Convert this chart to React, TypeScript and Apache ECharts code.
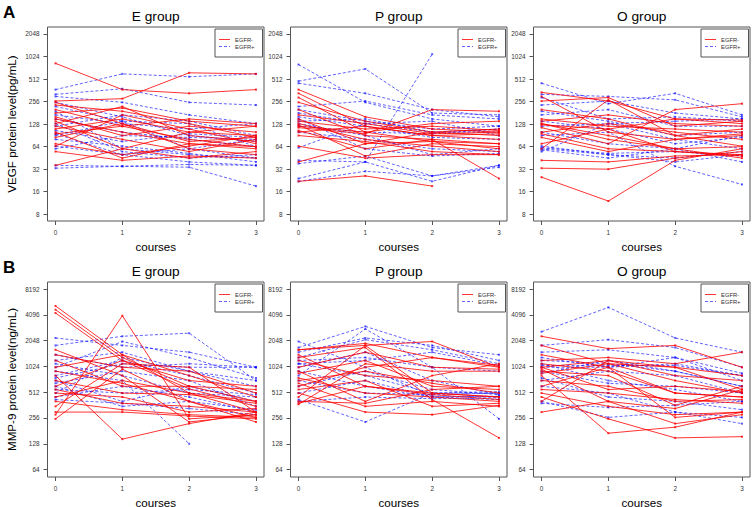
import React, { useEffect, useRef } from "react";
import * as echarts from "echarts";

const courses = [0, 1, 2, 3];
const panelTitles = ["E group", "P group", "O group"];
const legendNames = ["EGFR-", "EGFR+"];
const vegfTicks = [8, 16, 32, 64, 128, 256, 512, 1024, 2048];
const mmpTicks = [64, 128, 256, 512, 1024, 2048, 4096, 8192];
const rowLabels = ["A", "B"];
const yTitles = ["VEGF protein level(pg/mL)", "MMP-9 protein level(ng/mL)"];

// VEGF (pg/mL), values at courses 0..3, one row per patient
const vegfE_neg = [
  [830, 370, 330, 370], [260, 280, 620, 600], [36, 60, 100, 120], [230, 190, 130, 85],
  [200, 120, 80, 64], [180, 210, 140, 120], [150, 100, 70, 60], [140, 60, 45, 55],
  [130, 220, 90, 75], [120, 80, 55, 80], [110, 150, 100, 90], [100, 45, 70, 64],
  [95, 120, 150, 130], [85, 130, 60, 50], [70, 50, 65, 90], [65, 170, 110, 70],
  [55, 42, 48, 45], [250, 130, 75, 85], [160, 90, 120, 100],
];
const vegfE_pos = [
  [370, 600, 550, 600], [320, 380, 250, 230], [300, 250, 170, 130], [250, 160, 90, 75],
  [220, 140, 60, 80], [190, 60, 50, 45], [170, 130, 110, 130], [150, 100, 80, 64],
  [130, 55, 45, 50], [120, 170, 140, 90], [105, 75, 95, 85], [95, 50, 60, 45],
  [90, 140, 130, 64], [80, 65, 52, 40], [65, 50, 40, 36], [36, 35, 37, 36],
  [33, 35, 34, 19], [60, 90, 85, 80],
];
const vegfP_neg = [
  [370, 160, 110, 100], [330, 120, 90, 80], [290, 100, 75, 60], [250, 140, 100, 110],
  [200, 90, 80, 70], [170, 130, 95, 100], [150, 70, 100, 90], [140, 110, 120, 105],
  [130, 80, 65, 55], [125, 48, 70, 64], [115, 95, 200, 190], [105, 60, 80, 24],
  [100, 120, 90, 95], [90, 75, 55, 50], [65, 45, 50, 50], [40, 70, 75, 70],
  [22, 26, 19, null], [120, 100, 130, 140],
];
const vegfP_pos = [
  [800, 250, 150, 120], [480, 700, 180, 170], [450, 330, 200, 160], [220, 260, 170, 150],
  [200, 140, 110, 120], [180, 130, 140, 90], [160, 120, 85, 80], [140, 150, 100, 100],
  [130, 90, 50, 60], [120, 100, 95, 110], [100, 80, 60, 55], [42, 40, 1100, null],
  [38, 48, 26, 36], [24, 40, 22, 36], [22, 30, 26, 34], [150, 60, 48, 52],
  [62, 130, 100, 110],
];
const vegfO_neg = [
  [340, 260, 150, 130], [300, 100, 80, 90], [260, 290, 120, 140], [200, 150, 90, 110],
  [150, 120, 110, 100], [140, 170, 130, 120], [130, 90, 60, 64], [125, 110, 55, 50],
  [115, 70, 200, 240], [100, 130, 100, 80], [95, 60, 55, 48], [85, 55, 80, 95],
  [70, 110, 150, 145], [60, 270, 90, 65], [42, 40, 48, 50], [33, 32, 45, 55],
  [25, 12, 42, 60], [130, 80, 60, 45],
];
const vegfO_pos = [
  [450, 240, 330, 170], [320, 300, 270, 160], [290, 150, 160, 140], [230, 260, 180, 150],
  [190, 140, 90, 100], [170, 200, 120, 120], [140, 110, 70, 85], [120, 130, 80, 60],
  [100, 70, 60, 40], [90, 100, 35, 20], [65, 50, 45, 55], [60, 50, 40, 50],
  [58, 45, 60, 90], [55, 130, 140, 150], [62, 52, 55, 48],
];

// MMP-9 (ng/mL)
const mmpE_neg = [
  [5200, 1400, 500, 300], [4700, 1300, 600, 400], [4300, 1200, 560, 350], [280, 4000, 250, 280],
  [1600, 800, 230, 280], [1400, 1000, 900, 500], [1200, 600, 600, 550], [1000, 1400, 800, 450],
  [900, 650, 400, 260], [800, 145, 220, 300], [700, 500, 480, 380], [600, 1200, 700, 600],
  [550, 380, 350, 300], [500, 450, 300, 330], [450, 700, 500, 400], [400, 320, 280, 260],
  [300, 300, 270, 250], [250, 950, 400, 230], [350, 1100, 1000, 300],
];
const mmpE_pos = [
  [2200, 1800, 1500, 1000], [1800, 2300, 2500, 700], [1400, 1000, 1100, 1000], [1200, 1500, 900, 600],
  [1000, 2000, 1300, 750], [900, 700, 128, null], [800, 1200, 800, 500], [700, 400, 600, 400],
  [650, 900, 700, 350], [600, 350, 400, 320], [500, 1300, 900, 700], [450, 600, 450, 300],
  [420, 380, 330, 280], [1100, 800, 500, 450], [750, 1100, 1000, 1000], [550, 500, 550, 480],
];
const mmpP_neg = [
  [1600, 1800, 2000, 1000], [1600, 1900, 1300, 1000], [1400, 600, 500, 450], [1300, 1700, 420, 150],
  [1200, 800, 700, 600], [1000, 1500, 1000, 950], [900, 400, 800, 1100], [850, 1200, 600, 550],
  [750, 500, 450, 400], [700, 900, 650, 500], [650, 350, 400, 350], [600, 1000, 1300, 1050],
  [550, 700, 350, 380], [500, 300, 280, 360], [450, 1800, 500, 450], [400, 380, 550, 600],
  [380, 600, 480, 420], [370, 1100, 900, 900],
];
const mmpP_pos = [
  [2000, 1000, 460, 450], [1700, 3000, 1700, 1400], [1500, 2200, 1800, 1200], [1300, 2100, 1600, 1100],
  [1200, 1300, 1000, 900], [1100, 800, 500, 500], [1000, 1500, 700, 480], [900, 600, 450, 420],
  [800, 2800, 1000, 250], [700, 500, 480, 500], [600, 900, 550, 480], [500, 700, 450, 460],
  [420, 230, 500, 520], [400, 450, 430, 440], [1100, 1200, 1500, 1050],
];
const mmpO_neg = [
  [2300, 1650, 1800, 1000], [1800, 1100, 1000, 800], [1400, 1000, 260, 300], [1200, 1300, 1100, 1500],
  [1100, 900, 500, 450], [1000, 1200, 1000, 550], [950, 400, 330, 550], [900, 800, 360, 600],
  [850, 1100, 700, 500], [800, 170, 200, 300], [700, 600, 400, 420], [600, 1000, 500, 450],
  [550, 500, 420, 380], [500, 350, 280, 300], [450, 250, 150, 155], [400, 1200, 800, 700],
  [300, 400, 220, 280], [1000, 550, 600, 520],
];
const mmpO_pos = [
  [2600, 5000, 2200, 1500], [1800, 2100, 1700, 1000], [1500, 1600, 1300, 850], [1300, 1000, 1100, 800],
  [1200, 1100, 900, 600], [1100, 700, 550, 400], [1000, 1000, 1300, 700], [900, 650, 600, 500],
  [850, 1200, 900, 600], [750, 450, 400, 320], [700, 900, 800, 500], [600, 500, 300, 220],
  [400, 260, 300, 260], [380, 340, 360, 400], [1050, 1050, 1050, 800],
];

const FONT = "'Liberation Sans', Arial, Helvetica, sans-serif";
const RED = "rgba(255,0,0,0.8)";
const BLUE = "rgba(0,0,255,0.62)";
const BORDER = "#555";
const DASH = [3, 2];
// legend line samples (22x10 box scaled to 11x5; thin sliver at left fixes the box height)
const ICON_SOLID = "path://M0,0L0.01,0L0.01,10L0,10Z M0,4L22,4L22,6L0,6Z";
const ICON_DASH = "path://M0,0L0.01,0L0.01,10L0,10Z M0,4L6,4L6,6L0,6Z M10,4L16,4L16,6L10,6Z M20,4L22,4L22,6L20,6Z";

const panels = [
  { row: 0, col: 0, neg: vegfE_neg, pos: vegfE_pos },
  { row: 0, col: 1, neg: vegfP_neg, pos: vegfP_pos },
  { row: 0, col: 2, neg: vegfO_neg, pos: vegfO_pos },
  { row: 1, col: 0, neg: mmpE_neg, pos: mmpE_pos },
  { row: 1, col: 1, neg: mmpP_neg, pos: mmpP_pos },
  { row: 1, col: 2, neg: mmpO_neg, pos: mmpO_pos },
];

const COL_LEFT = [47.5, 290.5, 533.5];
const COL_W = 216.5;
const ROWS = [
  { top: 27, height: 194, min: 2.7, max: 11.31, ticks: vegfTicks },
  { top: 282, height: 195, min: 5.712, max: 13.272, ticks: mmpTicks },
];

function buildOption() {
  const grid: any[] = [];
  const xAxis: any[] = [];
  const yAxis: any[] = [];
  const series: any[] = [];
  const legend: any[] = [];
  const graphic: any[] = [];

  panels.forEach((p, i) => {
    const r = ROWS[p.row];
    const left = COL_LEFT[p.col];
    grid.push({
      left, top: r.top, width: COL_W, height: r.height,
      show: true, borderColor: BORDER, borderWidth: 1, backgroundColor: "transparent",
      containLabel: false, outerBoundsMode: "none",
    });
    xAxis.push({
      gridIndex: i, type: "value", min: -0.12, max: 3.12,
      axisLine: { show: false, onZero: false },
      splitLine: { show: false },
      axisTick: { show: true, length: 4, customValues: courses, lineStyle: { color: BORDER } },
      axisLabel: { customValues: courses, margin: 8, fontSize: 6.4, color: "#333", fontFamily: FONT },
      name: "courses", nameLocation: "middle", nameGap: 25,
      nameTextStyle: { fontSize: 11.6, color: "#000", fontFamily: FONT, verticalAlign: "middle" },
    });
    const tickVals = r.ticks.map((t) => Math.log2(t));
    yAxis.push({
      gridIndex: i, type: "value", min: r.min, max: r.max,
      axisLine: { show: false, onZero: false },
      splitLine: { show: false },
      axisTick: { show: true, length: 4, customValues: tickVals, lineStyle: { color: BORDER } },
      axisLabel: {
        customValues: tickVals, margin: 8, fontSize: 6.4, color: "#333", fontFamily: FONT,
        formatter: (v: number) => String(Math.round(Math.pow(2, v))),
      },
      name: p.col === 0 ? yTitles[p.row] : "",
      nameLocation: "middle", nameGap: 36, nameRotate: 90,
      nameTextStyle: { fontSize: 11.6, color: "#000", fontFamily: FONT, verticalAlign: "middle" },
    });
    const addSeries = (rows: (number | null)[][], name: string, color: string, dashed: boolean) => {
      rows.forEach((vals) => {
        const data: any[] = [];
        vals.forEach((v, k) => {
          if (v != null) data.push([courses[k], Math.log2(v)]);
        });
        series.push({
          type: "line", name, xAxisIndex: i, yAxisIndex: i, data,
          symbol: "rect", symbolSize: 2, silent: true,
          lineStyle: { color, width: 1, type: dashed ? DASH : "solid" },
          itemStyle: { color },
          emphasis: { disabled: true },
        });
      });
    };
    addSeries(p.pos, legendNames[1], BLUE, true);
    addSeries(p.neg, legendNames[0], RED, false);

    legend.push({
      orient: "vertical",
      right: 753 - (left + COL_W - 1.5),
      top: r.top + 2,
      itemWidth: 11, itemHeight: 5, itemGap: 0,
      padding: [7, 8, 7, 4],
      borderColor: BORDER, borderWidth: 1,
      selectedMode: false,
      textStyle: { fontSize: 5.8, lineHeight: 7, color: "#333", fontFamily: FONT },
      data: [
        {
          name: legendNames[0], icon: ICON_SOLID,
          itemStyle: { color: RED, borderWidth: 0, opacity: 1 },
        },
        {
          name: legendNames[1], icon: ICON_DASH,
          itemStyle: { color: BLUE, borderWidth: 0, opacity: 1 },
        },
      ],
    });

    graphic.push({
      type: "text", x: left + COL_W / 2, y: r.top - 11,
      style: {
        text: panelTitles[p.col], fontSize: 13.7, fontFamily: FONT, fill: "#000",
        align: "center", verticalAlign: "middle", textAlign: "center", textVerticalAlign: "middle",
      },
    });
  });

  rowLabels.forEach((lab, k) => {
    graphic.push({
      type: "text", x: 3, y: k === 0 ? 12 : 267,
      style: {
        text: lab, fontSize: 17, fontWeight: "bold", fontFamily: FONT, fill: "#000",
        align: "left", verticalAlign: "middle", textAlign: "left", textVerticalAlign: "middle",
      },
    });
  });

  return {
    animation: false,
    backgroundColor: "#fff",
    grid, xAxis, yAxis, series, legend, graphic,
  };
}

export default function App() {
  const ref = useRef<HTMLDivElement>(null);
  useEffect(() => {
    if (!ref.current) return;
    const chart = echarts.init(ref.current, undefined, { renderer: "svg" });
    chart.setOption(buildOption() as any);
    return () => chart.dispose();
  }, []);
  return (
    <div
      ref={ref}
      style={{ position: "fixed", left: 0, top: 0, width: 753, height: 507, background: "#fff" }}
    />
  );
}
